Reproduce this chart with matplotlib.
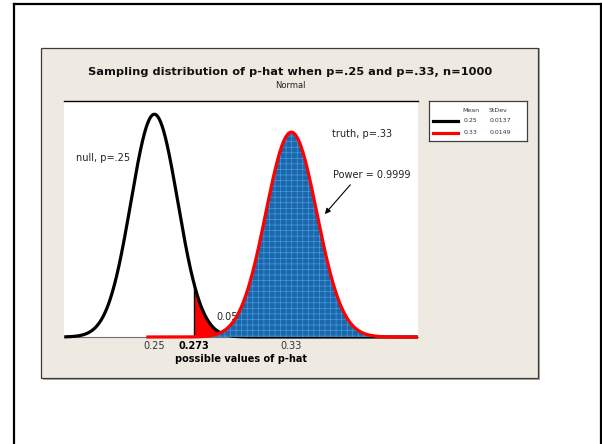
import numpy as np
import matplotlib
matplotlib.use("Agg")
import matplotlib.pyplot as plt
from matplotlib.patches import Rectangle
from matplotlib.lines import Line2D

# ---- data ----
labels = ["null, p=.25", "truth, p=.33"]
means = [0.25, 0.33]
sds = [0.0137, 0.0149]
critical = 0.273
alpha_label = "0.05"
power_label = "Power = 0.9999"
tick_values = [0.25, 0.273, 0.33]
tick_labels = ["0.25", "0.273", "0.33"]
xlim = (0.1974, 0.4038)
ylim_top = 30.85

plt.rcParams['font.family'] = ['DejaVu Sans']
plt.rcParams['hatch.linewidth'] = 0.5

W, H = 602, 444
fig = plt.figure(figsize=(W / 100, H / 100), dpi=100)
fig.patch.set_facecolor("white")

def fx(px):
    return px / W

def fy(py):
    return (H - py) / H

# outer border lines
fig.add_artist(Line2D([fx(13.5), fx(13.5)], [fy(4.5), fy(450)], color="black", lw=1.6, zorder=-3))
fig.add_artist(Line2D([fx(13.5), fx(600.5)], [fy(4.5), fy(4.5)], color="black", lw=1.6, zorder=-3))
fig.add_artist(Line2D([fx(600.5), fx(600.5)], [fy(4.5), fy(450)], color="black", lw=1.6, zorder=-3))

# beige panel with shadow
fig.add_artist(Rectangle((fx(43), fy(380)), fx(497), 332 / H, facecolor="#b0ada5",
                         edgecolor="none", zorder=-2))
fig.add_artist(Rectangle((fx(41.5), fy(378)), fx(496.5), 330 / H, facecolor="#eeeae1",
                         edgecolor="#3a3a3a", lw=0.9, zorder=-1))

# plot axes
ax = fig.add_axes([fx(64.3), fy(337), fx(417.7 - 64.3), (337 - 101) / H])
ax.set_facecolor("white")
ax.set_xlim(*xlim)
ax.set_ylim(0, ylim_top)

def pdf(x, m, s):
    return np.exp(-0.5 * ((x - m) / s) ** 2) / (s * np.sqrt(2 * np.pi))

x = np.linspace(xlim[0], xlim[1], 1500)
y_null = pdf(x, means[0], sds[0])
xt = np.linspace(0.2453, xlim[1], 1500)
y_true = pdf(xt, means[1], sds[1])

# black null curve
ax.plot(x, y_null, color="black", lw=2.3, zorder=3, clip_on=False, solid_capstyle="butt")

# red alpha region
xr = np.linspace(critical, xlim[1], 800)
ax.fill_between(xr, 0, pdf(xr, means[0], sds[0]), color="#ff0000", lw=0, zorder=2.5)
ax.plot([critical, critical], [0, pdf(critical, means[0], sds[0])], color="black", lw=1.0, zorder=3.2)

# blue power region
xb = np.linspace(critical, xlim[1], 1500)
ax.fill_between(xb, 0, pdf(xb, means[1], sds[1]), facecolor="#1d66a8", edgecolor="#3f9be6",
                hatch="+++", lw=0, zorder=4)
# red truth curve
ax.plot(xt, y_true, color="#ff0000", lw=2.3, zorder=5, clip_on=False, solid_capstyle="butt")

# annotations
ax.text(0.2044, 23.4, labels[0], fontsize=7, va="center", ha="left", color="#222222")
ax.text(0.3538, 26.5, labels[1], fontsize=7, va="center", ha="left", color="#222222")
ax.text(0.3541, 21.2, power_label, fontsize=7, va="center", ha="left", color="#222222")
ax.text(0.2862, 2.65, alpha_label, fontsize=7, va="center", ha="left", color="#222222", zorder=3.1)
ax.annotate("", xy=(0.3485, 15.8), xytext=(0.3655, 20.17),
            arrowprops=dict(arrowstyle="-|>", color="black", lw=0.8, mutation_scale=8))

# axes styling
for s in ["left", "right"]:
    ax.spines[s].set_visible(False)
ax.spines["top"].set_color("black")
ax.spines["top"].set_linewidth(1.0)
ax.spines["bottom"].set_color("#707070")
ax.spines["bottom"].set_linewidth(0.8)
ax.set_yticks([])
ax.set_xticks(tick_values)
ax.set_xticklabels(tick_labels, fontsize=7, color="#333333")
ax.tick_params(axis="x", length=0, pad=3)
for t in ax.get_xticklabels():
    if t.get_text() == "0.273":
        t.set_fontweight("bold")
        t.set_color("black")
ax.set_xlabel("possible values of p-hat", fontsize=7, fontweight="bold", labelpad=2)

# titles
fig.text(fx(290), fy(71.7), "Sampling distribution of p-hat when p=.25 and p=.33, n=1000",
         ha="center", va="center", fontsize=8.2, fontweight="bold", color="#111111")
fig.text(fx(290), fy(86), "Normal", ha="center", va="center", fontsize=6, color="#222222")

# legend box
lax = fig.add_axes([fx(429), fy(141), fx(98), 40 / H])
lax.set_xlim(429, 527)
lax.set_ylim(141, 101)
lax.set_xticks([])
lax.set_yticks([])
lax.set_facecolor("white")
for s in lax.spines.values():
    s.set_color("#404040")
    s.set_linewidth(0.9)
lax.text(462.7, 110.7, "Mean", fontsize=4.5, va="center", ha="left", color="#333333")
lax.text(489, 110.7, "StDev", fontsize=4.5, va="center", ha="left", color="#333333")
colors = ["black", "#ff0000"]
rows_y = [120.7, 133]
for i in range(2):
    lax.plot([432.7, 458.3], [rows_y[i], rows_y[i]], color=colors[i], lw=2.3)
    lax.text(463.3, rows_y[i], f"{means[i]:.2f}", fontsize=4.5, va="center", ha="left", color="#333333")
    lax.text(490, rows_y[i], f"{sds[i]:.4f}", fontsize=4.5, va="center", ha="left", color="#333333")

fig.savefig("out.png", dpi=100)
